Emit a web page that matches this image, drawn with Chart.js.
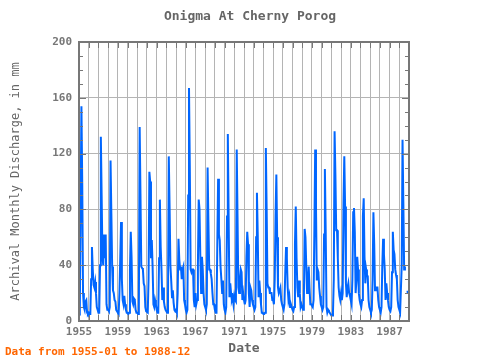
<!DOCTYPE html>
<html><head><meta charset="utf-8">
<script src="https://cdn.jsdelivr.net/npm/chart.js@4/dist/chart.umd.min.js"></script>
<style>html,body{margin:0;padding:0;background:#fff;}canvas{display:block;}</style>
</head><body>
<canvas id="c" width="480" height="360"></canvas>
<script>
const startYear = 1955;
const endYear = 1989;
// monthly discharge, mm (Jan..Dec per row)
const discharge = [
  7, 6, 82, 154, 99, 20, 10, 8, 14, 15, 6, 5,
  6, 5, 5, 30, 53, 37, 26, 24, 28, 20, 10, 8,
  6, 6, 40, 132, 90, 46, 40, 62, 45, 62, 12, 8,
  8, 7, 10, 115, 77, 39, 22, 20, 15, 14, 8, 7,
  6, 5, 20, 45, 71, 30, 15, 12, 18, 12, 8, 6,
  6, 5, 6, 37, 64, 46, 14, 12, 16, 15, 8, 6,
  6, 5, 10, 139, 91, 39, 38, 37, 27, 25, 10, 7,
  7, 6, 30, 107, 100, 45, 58, 39, 12, 10, 15, 12,
  8, 6, 6, 45, 87, 53, 37, 15, 24, 14, 10, 8,
  7, 6, 12, 118, 82, 40, 29, 17, 22, 13, 8, 7,
  8, 6, 20, 59, 44, 37, 39, 30, 37, 39, 15, 12,
  8, 6, 8, 90, 167, 110, 37, 35, 37, 37, 15, 10,
  20, 12, 15, 40, 87, 80, 46, 20, 46, 37, 20, 12,
  10, 8, 12, 110, 71, 37, 37, 34, 30, 20, 12, 12,
  8, 6, 6, 55, 102, 62, 58, 39, 30, 20, 29, 12,
  8, 6, 10, 75, 134, 75, 17, 27, 20, 15, 17, 12,
  18, 15, 14, 123, 75, 24, 20, 30, 37, 35, 15, 20,
  15, 12, 15, 46, 64, 55, 20, 10, 24, 22, 15, 12,
  10, 8, 10, 60, 92, 62, 17, 29, 20, 12, 6, 6,
  5, 5, 6, 124, 81, 27, 24, 24, 20, 20, 20, 15,
  15, 12, 30, 75, 105, 60, 24, 20, 22, 24, 15, 12,
  10, 8, 12, 35, 53, 45, 24, 15, 18, 10, 12, 10,
  8, 7, 10, 55, 82, 45, 24, 17, 29, 20, 10, 12,
  10, 8, 15, 66, 60, 39, 20, 25, 39, 24, 12, 12,
  12, 10, 15, 65, 123, 82, 29, 37, 35, 24, 18, 12,
  10, 8, 10, 62, 109, 65, 10, 6, 8, 7, 6, 5,
  4, 4, 6, 30, 136, 105, 65, 65, 45, 24, 18, 15,
  20, 15, 20, 84, 118, 82, 27, 17, 24, 27, 20, 18,
  15, 12, 30, 78, 81, 64, 20, 29, 46, 37, 20, 15,
  12, 10, 15, 75, 88, 46, 27, 37, 33, 32, 15, 10,
  8, 6, 8, 30, 78, 55, 22, 24, 24, 24, 15, 10,
  8, 6, 10, 40, 59, 48, 37, 15, 27, 20, 15, 10,
  8, 7, 10, 35, 64, 51, 48, 37, 33, 30, 15, 10,
  8, 6, 6, 40, 130, 85, 37, 39, null, 21, 21, 20
];
const yTicks = [0, 40, 80, 120, 160, 200];
const xLabelYears = [1955, 1959, 1963, 1967, 1971, 1975, 1979, 1983, 1987];
const titleText = 'Onigma At Cherny Porog';
const yTitle = 'Archival Monthly Discharge, in mm';
const xTitle = 'Date';
const footText = 'Data from 1955-01 to 1988-12';

const points = discharge.map((v, i) => ({ x: startYear + i / 12, y: v }));
const MONO = '"DejaVu Sans Mono", "Liberation Mono", monospace';

const deco = {
  id: 'deco',
  afterDraw(chart) {
    const { ctx, chartArea: a, scales: { x, y } } = chart;
    ctx.save();
    ctx.strokeStyle = '#777';
    ctx.lineWidth = 1;
    ctx.beginPath();
    for (let v = 0; v <= 200; v += 10) {
      const py = Math.round(y.getPixelForValue(v)) + 0.5;
      const len = (v % 40 === 0) ? 7 : 4;
      ctx.moveTo(a.left, py); ctx.lineTo(a.left + len, py);
      ctx.moveTo(a.right, py); ctx.lineTo(a.right - len, py);
    }
    for (let yr = startYear; yr <= endYear; yr++) {
      const px = Math.round(x.getPixelForValue(yr)) + 0.5;
      ctx.moveTo(px, a.top); ctx.lineTo(px, a.top + 6);
      ctx.moveTo(px, a.bottom); ctx.lineTo(px, a.bottom - 6);
    }
    ctx.stroke();
    ctx.lineWidth = 2;
    ctx.strokeRect(a.left, a.top, a.right - a.left, a.bottom - a.top);
    ctx.fillStyle = '#666';
    ctx.font = 'bold 13px ' + MONO;
    ctx.textAlign = 'center';
    ctx.textBaseline = 'middle';
    ctx.fillText(titleText, 250, 17);
    ctx.fillStyle = '#ff6600';
    ctx.font = 'bold 11px ' + MONO;
    ctx.textAlign = 'left';
    ctx.fillText(footText, 5, 352);
    ctx.restore();
  }
};

new Chart(document.getElementById('c'), {
  type: 'line',
  data: {
    datasets: [{
      data: points,
      borderColor: '#0066ff',
      borderWidth: 2,
      pointRadius: 0,
      tension: 0,
      spanGaps: false
    }]
  },
  options: {
    responsive: false,
    animation: false,
    events: [],
    layout: { padding: { top: 42, right: 71, left: 0, bottom: 0 } },
    plugins: { legend: { display: false }, tooltip: { enabled: false }, title: { display: false } },
    scales: {
      x: {
        type: 'linear', min: startYear, max: endYear,
        afterFit(s) { s.height = 39; },
        grid: { color: '#b4b4b4', lineWidth: 1, drawTicks: false },
        border: { display: false },
        ticks: {
          stepSize: 1, autoSkip: false, maxRotation: 0, padding: 5,
          color: '#777', font: { family: MONO, size: 11, weight: 'bold' },
          callback: v => xLabelYears.includes(v) ? String(v) : ''
        },
        title: { display: true, text: xTitle, color: '#666', font: { family: MONO, size: 13, weight: 'bold' }, padding: { top: 0, bottom: 4 } }
      },
      y: {
        min: 0, max: 200,
        afterFit(s) { s.width = 79; },
        grid: { color: '#b4b4b4', lineWidth: 1, drawTicks: false },
        border: { display: false },
        ticks: {
          stepSize: 40, padding: 7,
          color: '#777', font: { family: MONO, size: 11, weight: 'bold' },
          callback: v => yTicks.includes(v) ? String(v) : ''
        },
        title: { display: true, text: yTitle, color: '#666', font: { family: MONO, size: 12 }, padding: { top: 9, bottom: 0 } }
      }
    }
  },
  plugins: [deco]
});
</script>
</body></html>
